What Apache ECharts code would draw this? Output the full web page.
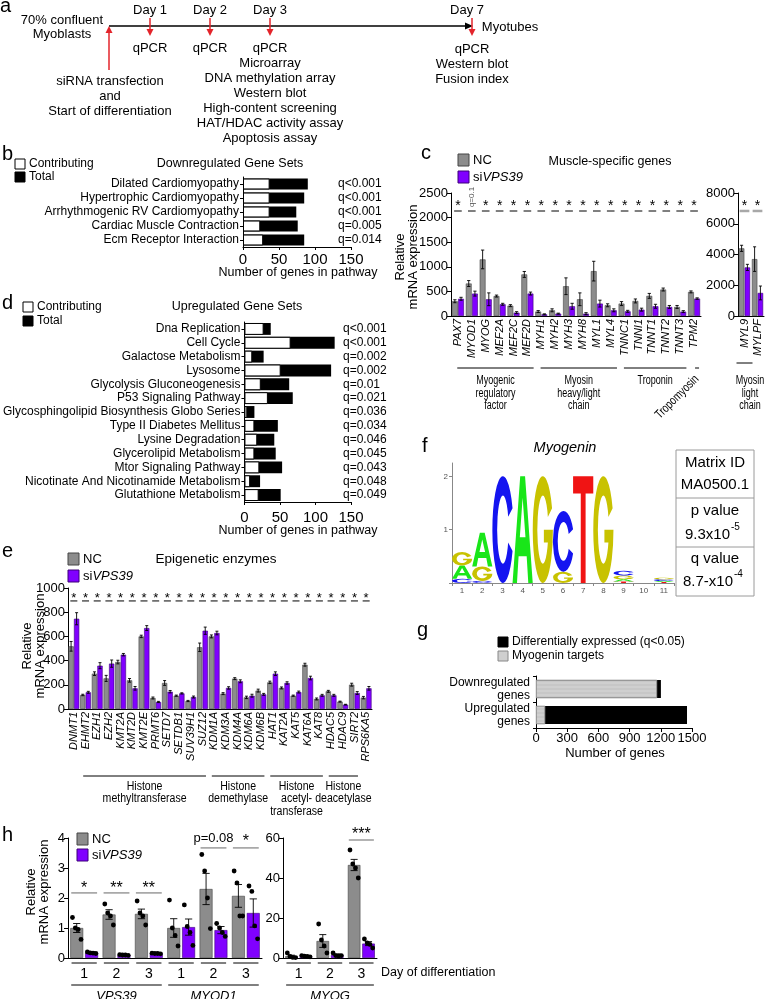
<!DOCTYPE html>
<html>
<head>
<meta charset="utf-8">
<script src="https://cdn.jsdelivr.net/npm/echarts@6.0.0/dist/echarts.min.js"></script>
<style>
html,body{margin:0;padding:0;background:#fff;}
#main{width:768px;height:999px;}
</style>
</head>
<body>
<div id="main"></div>
<script>
const FONT = "'Liberation Sans', Arial, Helvetica, sans-serif";
const NC_COLOR = '#8c8c8c';
const SI_COLOR = '#8000ff';
const RED = '#e3242b';

/* ---------- Panel a : timeline texts ---------- */
const timelineDays = ['Day 1', 'Day 2', 'Day 3', 'Day 7'];
const day3Assays = ['qPCR', 'Microarray', 'DNA methylation array', 'Western blot', 'High-content screening', 'HAT/HDAC activity assay', 'Apoptosis assay'];
const day7Assays = ['qPCR', 'Western blot', 'Fusion index'];
const startTexts = ['siRNA transfection', 'and', 'Start of differentiation'];

/* ---------- Panel b : downregulated gene sets ---------- */
const bSets = ['Dilated Cardiomyopathy', 'Hypertrophic Cardiomyopathy', 'Arrhythmogenic RV Cardiomyopathy', 'Cardiac Muscle Contraction', 'Ecm Receptor Interaction'];
const bContributing = [37, 37, 37, 24, 28];
const bTotal = [90, 85, 74, 76, 85];
const bQ = ['q<0.001', 'q<0.001', 'q<0.001', 'q=0.005', 'q=0.014'];

/* ---------- Panel d : upregulated gene sets ---------- */
const dSets = ['Dna Replication', 'Cell Cycle', 'Galactose Metabolism', 'Lysosome', 'Glycolysis Gluconeogenesis', 'P53 Signaling Pathway', 'Glycosphingolipid Biosynthesis Globo Series', 'Type II Diabetes Mellitus', 'Lysine Degradation', 'Glycerolipid Metabolism', 'Mtor Signaling Pathway', 'Nicotinate And Nicotinamide Metabolism', 'Glutathione Metabolism'];
const dContributing = [27, 65, 11, 51, 23, 33, 4, 14, 18, 14, 21, 8, 20];
const dTotal = [37, 127, 27, 122, 63, 68, 14, 47, 42, 44, 53, 22, 51];
const dQ = ['q<0.001', 'q<0.001', 'q=0.002', 'q=0.002', 'q=0.01', 'q=0.021', 'q=0.036', 'q=0.034', 'q=0.046', 'q=0.045', 'q=0.043', 'q=0.048', 'q=0.049'];

/* ---------- Panel c : muscle-specific genes ---------- */
const cGenes = ['PAX7', 'MYOD1', 'MYOG', 'MEF2A', 'MEF2C', 'MEF2D', 'MYH1', 'MYH2', 'MYH3', 'MYH8', 'MYL1', 'MYL4', 'TNNC1', 'TNNI1', 'TNNT1', 'TNNT2', 'TNNT3', 'TPM2'];
const cNC = [300, 660, 1150, 405, 210, 845, 90, 116, 605, 340, 912, 218, 252, 306, 409, 538, 184, 490];
const cSi = [350, 455, 340, 238, 68, 456, 34, 48, 198, 48, 252, 116, 95, 129, 198, 184, 89, 354];
const cNCsem = [30, 60, 190, 20, 20, 60, 20, 30, 170, 130, 200, 30, 40, 40, 50, 30, 30, 20];
const cSiSem = [30, 50, 130, 20, 20, 30, 10, 10, 60, 20, 70, 30, 20, 30, 40, 30, 20, 15];
const cSig = ['*', 'q=0.1', '*', '*', '*', '*', '*', '*', '*', '*', '*', '*', '*', '*', '*', '*', '*', '*'];
const cGenesR = ['MYL9', 'MYLPF'];
const cNCR = [4400, 3700];
const cSiR = [3160, 1500];
const cNCRsem = [200, 800];
const cSiRsem = [200, 450];
const cSigR = ['*', '*'];
const cGroups = [
  { label: 'Myogenic\nregulatory\nfactor', from: 0, to: 5 },
  { label: 'Myosin\nheavy/light\nchain', from: 6, to: 11 },
  { label: 'Troponin', from: 12, to: 16 }
];

/* ---------- Panel e : epigenetic enzymes ---------- */
const eGenes = ['DNMT1', 'EHMT2', 'EZH1', 'EZH2', 'KMT2A', 'KMT2D', 'KMT2E', 'PRMT6', 'SETD7', 'SETDB1', 'SUV39H1', 'SUZ12', 'KDM1A', 'KDM3A', 'KDM4A', 'KDM6A', 'KDM6B', 'HAT1', 'KAT2A', 'KAT5', 'KAT6A', 'KAT8', 'HDAC5', 'HDAC9', 'SIRT2', 'RPS6KA5'];
const eNC = [518, 116, 292, 253, 388, 237, 600, 91, 215, 110, 66, 510, 600, 127, 251, 96, 152, 220, 174, 110, 366, 83, 146, 61, 201, 94];
const eSi = [746, 138, 358, 375, 449, 171, 669, 58, 143, 129, 99, 647, 628, 174, 229, 110, 121, 292, 215, 140, 256, 113, 113, 36, 132, 171];
const eNCsem = [40, 6, 15, 25, 15, 15, 10, 8, 20, 5, 5, 35, 12, 8, 8, 10, 12, 10, 8, 5, 12, 8, 8, 4, 12, 10];
const eSiSem = [50, 8, 25, 30, 10, 15, 20, 5, 10, 5, 8, 30, 15, 10, 12, 12, 8, 15, 10, 8, 15, 8, 8, 3, 12, 15];
const eGroups = [
  { label: 'Histone\nmethyltransferase', from: 1, to: 11 },
  { label: 'Histone\ndemethylase', from: 12, to: 16 },
  { label: 'Histone\nacetyl-\ntransferase', from: 17, to: 21 },
  { label: 'Histone\ndeacetylase', from: 22, to: 24 }
];

/* ---------- Panel f : Myogenin motif logo (bits, stacked bottom to top) ---------- */
const logoPositions = ['1', '2', '3', '4', '5', '6', '7', '8', '9', '10', '11'];
const logoColumns = [
  [['C', 0.08], ['A', 0.25], ['G', 0.25]],
  [['C', 0.04], ['G', 0.27], ['A', 0.63]],
  [['C', 2.0]],
  [['A', 2.0]],
  [['G', 2.0]],
  [['G', 0.21], ['C', 1.14]],
  [['T', 2.0]],
  [['G', 2.0]],
  [['T', 0.03], ['A', 0.04], ['G', 0.07], ['C', 0.09]],
  [],
  [['T', 0.02], ['A', 0.02], ['C', 0.03], ['G', 0.03]]
];
const motifTable = ['Matrix ID', 'MA0500.1', 'p value', 'q value'];

/* ---------- Panel g ---------- */
const gCats = ['Downregulated\ngenes', 'Upregulated\ngenes'];
const gDiffExpressed = [1201, 1452];
const gMyogeninTargets = [1163, 87];

/* ---------- Panel h ---------- */
const hCats1 = ['VPS39-1', 'VPS39-2', 'VPS39-3', 'MYOD1-1', 'MYOD1-2', 'MYOD1-3'];
const hDays1 = ['1', '2', '3', '1', '2', '3'];
const hNC1 = [1.0, 1.45, 1.47, 1.0, 2.3, 2.07];
const hSi1 = [0.17, 0.1, 0.15, 1.03, 0.93, 1.5];
const hNCsem1 = [0.15, 0.16, 0.16, 0.31, 0.52, 0.38];
const hSiSem1 = [0.03, 0.02, 0.02, 0.27, 0.12, 0.47];
const hNCdots1 = [[1.35, 1.0, 0.95, 0.62], [1.8, 1.5, 1.4, 1.1], [1.9, 1.5, 1.4, 1.1], [1.93, 1.0, 0.75, 0.4], [3.45, 2.9, 2.0, 0.98], [2.9, 2.5, 1.4, 1.4]];
const hSiDots1 = [[0.2, 0.17, 0.16, 0.15], [0.11, 0.1, 0.1, 0.09], [0.16, 0.15, 0.15, 0.14], [1.77, 1.05, 0.85, 0.42], [1.15, 1.0, 0.85, 0.72], [2.4, 2.22, 1.07, 0.64]];
const hSigIdx1 = [0, 1, 2, 4, 5];
const hSigText1 = ['*', '**', '**', 'p=0.08', '*'];
const hSigStar1 = [2.33, 2.33, 2.33, 3.97, 3.87];
const hSigLine1 = [2.17, 2.17, 2.17, 3.67, 3.67];
const hCats2 = ['MYOG-1', 'MYOG-2', 'MYOG-3'];
const hDays2 = ['1', '2', '3'];
const hNC2 = [0.9, 8.5, 46.5];
const hSi2 = [0.9, 1.5, 7.2];
const hNCsem2 = [0.5, 3.2, 2.8];
const hSiSem2 = [0.2, 0.5, 1.0];
const hNCdots2 = [[2.5, 0.8, 0.3, 0.2], [17, 9, 6, 2.5], [54, 47, 45, 40]];
const hSiDots2 = [[1.2, 0.9, 0.8, 0.6], [2.5, 1.2, 1.0, 1.2], [9.5, 7.5, 6.8, 5]];
const hSigIdx2 = [2];
const hSigText2 = ['***'];
const hSigStar2 = [61.5];
const hSigLine2 = [59];
const hGenes = ['VPS39', 'MYOD1', 'MYOG'];

/* ======================================================= */
const chart = echarts.init(document.getElementById('main'));
const grids = [], xAxes = [], yAxes = [], series = [];
const addGrid = g => { grids.push(g); return grids.length - 1; };
const pushX = a => { xAxes.push(a); return xAxes.length - 1; };
const pushY = a => { yAxes.push(a); return yAxes.length - 1; };
const BL = { color: '#000', width: 1 };
const lab = (o) => Object.assign({ color: '#000', fontFamily: FONT }, o);

function valueAxis(gi, min, max, interval, labelSize, margin) {
  return {
    gridIndex: gi, type: 'value', min, max, interval,
    axisLine: { show: true, lineStyle: BL },
    axisTick: { show: true, length: 4, lineStyle: BL },
    axisLabel: lab({ fontSize: labelSize, margin, formatter: v => String(v), showMaxLabel: true, hideOverlap: false }),
    splitLine: { show: false }
  };
}
function catAxis(gi, data, o) {
  return Object.assign({
    gridIndex: gi, type: 'category', data,
    axisLine: { show: true, lineStyle: BL },
    axisTick: { show: false },
    axisLabel: lab({ fontSize: 11, interval: 0 })
  }, o);
}

function errSeries(xi, yi, means, sems, side, wFrac, gapFrac) {
  return {
    type: 'custom', xAxisIndex: xi, yAxisIndex: yi, silent: true, z: 5,
    data: means.map((m, i) => [i, m - sems[i], m + sems[i]]),
    renderItem(params, api) {
      const band = api.size([1, 0])[0];
      const w = band * wFrac, g = w * gapFrac;
      const dx = side * (w + g) / 2;
      const lo = api.coord([api.value(0), api.value(1)]);
      const hi = api.coord([api.value(0), api.value(2)]);
      const x = lo[0] + dx, cap = Math.max(1.5, w * 0.28);
      const st = { stroke: '#000', lineWidth: 0.9 };
      return { type: 'group', children: [
        { type: 'line', shape: { x1: x, y1: lo[1], x2: x, y2: hi[1] }, style: st },
        { type: 'line', shape: { x1: x - cap, y1: hi[1], x2: x + cap, y2: hi[1] }, style: st },
        { type: 'line', shape: { x1: x - cap, y1: lo[1], x2: x + cap, y2: lo[1] }, style: st }
      ] };
    }
  };
}
function dotSeries(xi, yi, dots, side, wFrac, gapFrac, r) {
  const data = [];
  dots.forEach((arr, i) => arr.forEach((v, j) => data.push([i, v, j, arr.length])));
  return {
    type: 'custom', xAxisIndex: xi, yAxisIndex: yi, silent: true, z: 7, data,
    renderItem(params, api) {
      const p = api.coord([api.value(0), api.value(1)]);
      const band = api.size([1, 0])[0];
      const w = band * wFrac, g = w * gapFrac;
      const n = api.value(3), j = api.value(2);
      const off = side * (w + g) / 2 + (j - (n - 1) / 2) * w * 0.22;
      return { type: 'circle', shape: { cx: p[0] + off, cy: p[1], r }, style: { fill: '#000' } };
    }
  };
}
function sigSeries(xi, yi, idxs, starVals, lineVals, labels, o) {
  return {
    type: 'custom', xAxisIndex: xi, yAxisIndex: yi, silent: true, z: 6, clip: false,
    data: idxs.map((c, k) => [c, starVals[k], lineVals[k]]),
    renderItem(params, api) {
      const i = api.value(0);
      const s = api.coord([i, api.value(1)]);
      const l = api.coord([i, api.value(2)]);
      const band = api.size([1, 0])[0];
      const half = band * o.lineFrac / 2;
      const t = labels[params.dataIndex];
      const isStar = t[0] === '*';
      const rot = (!isStar && o.rotateText) ? Math.PI / 2 : 0;
      const fs = isStar ? o.starSize : o.textSize;
      return { type: 'group', children: [
        { type: 'line', shape: { x1: l[0] - half, y1: l[1], x2: l[0] + half, y2: l[1] }, style: { stroke: o.lineColor, lineWidth: o.lineWidth } },
        { type: 'text', x: s[0], y: s[1] + (isStar ? 0 : o.textShift || 0), rotation: rot,
          style: { text: t, fontSize: fs, fontFamily: FONT, fill: isStar ? '#000' : o.textColor,
            align: 'center', verticalAlign: 'middle', textAlign: 'center', textVerticalAlign: 'middle' } }
      ] };
    }
  };
}
function barPair(xi, yi, nc, si, wPct, gapPct) {
  return [
    { type: 'bar', xAxisIndex: xi, yAxisIndex: yi, data: nc, barWidth: wPct + '%', barGap: gapPct + '%', silent: true,
      itemStyle: { color: NC_COLOR, borderColor: '#444', borderWidth: 0.6 } },
    { type: 'bar', xAxisIndex: xi, yAxisIndex: yi, data: si, barWidth: wPct + '%', barGap: gapPct + '%', silent: true,
      itemStyle: { color: SI_COLOR, borderColor: '#3c0078', borderWidth: 0.6 } }
  ];
}

/* ---- grids ---- */
const G_B = addGrid({ left: 243, top: 177, width: 108, height: 70 });
const G_D = addGrid({ left: 243, top: 322, width: 108, height: 180 });
const G_C1 = addGrid({ left: 451, top: 193, width: 250, height: 123 });
const G_C2 = addGrid({ left: 738, top: 193, width: 26, height: 123 });
const G_E = addGrid({ left: 68, top: 588, width: 304, height: 121 });
const G_F = addGrid({ left: 452, top: 463, width: 222, height: 120 });
const G_G = addGrid({ left: 536, top: 676, width: 156, height: 52 });
const G_H1 = addGrid({ left: 68, top: 838, width: 194, height: 120 });
const G_H2 = addGrid({ left: 283, top: 838, width: 94, height: 120 });

/* ---- panel b ---- */
const xB = pushX(Object.assign(valueAxis(G_B, 0, 150, 50, 15, 5), { axisTick: { show: true, length: 3, lineStyle: BL } }));
const yB = pushY(catAxis(G_B, bSets, { inverse: true, axisTick: { show: true, length: 3, alignWithLabel: true, lineStyle: BL }, axisLabel: lab({ fontSize: 12, margin: 4, interval: 0 }) }));
const yBq = pushY(catAxis(G_B, bQ, { inverse: true, position: 'right', axisLine: { show: false }, axisLabel: lab({ fontSize: 12, margin: -13, align: 'left', interval: 0 }) }));
series.push(
  { type: 'bar', xAxisIndex: xB, yAxisIndex: yB, data: bTotal, barWidth: '78%', barGap: '-100%', silent: true, itemStyle: { color: '#000' } },
  { type: 'bar', xAxisIndex: xB, yAxisIndex: yB, data: bContributing, barWidth: '78%', barGap: '-100%', silent: true, itemStyle: { color: '#fff', borderColor: '#000', borderWidth: 1 } }
);

/* ---- panel d ---- */
const xD = pushX(Object.assign(valueAxis(G_D, 0, 150, 50, 15, 8), { axisTick: { show: true, length: 3, lineStyle: BL } }));
const yD = pushY(catAxis(G_D, dSets, { inverse: true, axisTick: { show: true, length: 3, alignWithLabel: true, lineStyle: BL }, axisLabel: lab({ fontSize: 12, margin: 4, interval: 0 }) }));
const yDq = pushY(catAxis(G_D, dQ, { inverse: true, position: 'right', axisLine: { show: false }, axisLabel: lab({ fontSize: 12, margin: -8, align: 'left', interval: 0 }) }));
series.push(
  { type: 'bar', xAxisIndex: xD, yAxisIndex: yD, data: dTotal, barWidth: '86%', barGap: '-100%', silent: true, itemStyle: { color: '#000' } },
  { type: 'bar', xAxisIndex: xD, yAxisIndex: yD, data: dContributing, barWidth: '86%', barGap: '-100%', silent: true, itemStyle: { color: '#fff', borderColor: '#000', borderWidth: 1 } }
);

/* ---- panel c ---- */
const xC1 = pushX(catAxis(G_C1, cGenes, { axisLabel: lab({ fontSize: 11, fontStyle: 'italic', rotate: 90, margin: 3, interval: 0 }) }));
const yC1 = pushY(valueAxis(G_C1, 0, 2500, 500, 13, 3));
series.push(...barPair(xC1, yC1, cNC, cSi, 42, 6));
series.push(errSeries(xC1, yC1, cNC, cNCsem, -1, 0.42, 0.06), errSeries(xC1, yC1, cSi, cSiSem, 1, 0.42, 0.06));
series.push(sigSeries(xC1, yC1, cGenes.map((g, i) => i), cGenes.map(() => 2236), cGenes.map(() => 2134), cSig,
  { lineFrac: 0.55, lineColor: '#000', lineWidth: 1, starSize: 14, textSize: 8, textColor: '#555', rotateText: true, textShift: -9 }));

const xC2 = pushX(catAxis(G_C2, cGenesR, { axisLabel: lab({ fontSize: 11, fontStyle: 'italic', rotate: 90, margin: 3, interval: 0 }) }));
const yC2 = pushY(valueAxis(G_C2, 0, 8000, 2000, 13, 3));
series.push(...barPair(xC2, yC2, cNCR, cSiR, 42, 6));
series.push(errSeries(xC2, yC2, cNCR, cNCRsem, -1, 0.42, 0.06), errSeries(xC2, yC2, cSiR, cSiRsem, 1, 0.42, 0.06));
series.push(sigSeries(xC2, yC2, [0, 1], [7154, 7154], [6830, 6830], cSigR,
  { lineFrac: 0.75, lineColor: '#a8a8a8', lineWidth: 2.5, starSize: 14, textSize: 8, textColor: '#555' }));

/* ---- panel e ---- */
const xE = pushX(catAxis(G_E, eGenes, { axisLabel: lab({ fontSize: 11, fontStyle: 'italic', rotate: 90, margin: 3, interval: 0 }) }));
const yE = pushY(valueAxis(G_E, 0, 1000, 200, 13, 3));
series.push(...barPair(xE, yE, eNC, eSi, 45, 5));
series.push(errSeries(xE, yE, eNC, eNCsem, -1, 0.45, 0.05), errSeries(xE, yE, eSi, eSiSem, 1, 0.45, 0.05));
series.push(sigSeries(xE, yE, eGenes.map((g, i) => i), eGenes.map(() => 918), eGenes.map(() => 893), eGenes.map(() => '*'),
  { lineFrac: 0.6, lineColor: '#000', lineWidth: 1, starSize: 13, textSize: 8, textColor: '#555' }));

/* ---- panel f : logo ---- */
const LETTER_PATHS = {
  A: 'M0,100 L38,0 L62,0 L100,100 L78,100 L70,75 L30,75 L22,100 Z M36,57 L64,57 L50,20 Z',
  C: 'M94,30 A48,50 0 1 0 94,70 L74,62 A26,32 0 1 1 74,38 Z',
  G: 'M94,30 A48,50 0 1 0 98,50 L55,50 L55,62 L74,62 A26,32 0 1 1 74,38 Z',
  T: 'M0,0 L100,0 L100,16 L62,16 L62,100 L38,100 L38,16 L0,16 Z'
};
const LETTER_COLORS = { A: '#19e619', C: '#1414f0', G: '#c8c200', T: '#f01414' };
const LETTER_ORDER = ['A', 'C', 'G', 'T'];
const logoData = [];
logoColumns.forEach((col, pos) => {
  let base = 0;
  col.forEach(([l, h]) => { logoData.push([pos, base, base + h, LETTER_ORDER.indexOf(l)]); base += h; });
});
const xF = pushX({
  gridIndex: G_F, type: 'category', data: logoPositions,
  axisLine: { show: true, lineStyle: { color: '#888', width: 1 } },
  axisTick: { show: true, length: 3, lineStyle: { color: '#888' } },
  axisLabel: { fontSize: 8, color: '#555', margin: 4, fontFamily: FONT, interval: 0 }
});
const yF = pushY({
  gridIndex: G_F, type: 'value', min: 0, max: 2.25, interval: 1,
  axisLine: { show: true, lineStyle: { color: '#888', width: 1 } },
  axisTick: { show: true, length: 3, lineStyle: { color: '#888' }, customValues: [0, 1, 2] },
  axisLabel: { fontSize: 8, color: '#555', margin: 4, fontFamily: FONT, customValues: [1, 2] },
  splitLine: { show: false }
});
series.push({
  type: 'custom', xAxisIndex: xF, yAxisIndex: yF, silent: true, data: logoData,
  renderItem(params, api) {
    const p0 = api.coord([api.value(0), api.value(1)]);
    const p1 = api.coord([api.value(0), api.value(2)]);
    const band = api.size([1, 0])[0];
    const w = band * 1.0;
    const l = LETTER_ORDER[api.value(3)];
    return { type: 'path', shape: { pathData: LETTER_PATHS[l], x: p0[0] - w / 2, y: p1[1], width: w, height: Math.max(0.8, p0[1] - p1[1]), layout: 'cover' },
      style: { fill: LETTER_COLORS[l] } };
  }
});

/* ---- panel g ---- */
const xG = pushX(valueAxis(G_G, 0, 1500, 300, 13, 4));
const yG = pushY(catAxis(G_G, gCats, { inverse: true, axisTick: { show: true, length: 3, lineStyle: BL }, axisLabel: lab({ fontSize: 12, margin: 6, lineHeight: 13, interval: 0 }) }));
series.push(
  { type: 'bar', xAxisIndex: xG, yAxisIndex: yG, data: gDiffExpressed, barWidth: '70%', barGap: '-100%', silent: true, itemStyle: { color: '#000' } },
  { type: 'bar', xAxisIndex: xG, yAxisIndex: yG, data: gMyogeninTargets, barWidth: '70%', barGap: '-100%', silent: true,
    itemStyle: { color: '#cfcfcf', borderColor: '#9a9a9a', borderWidth: 0.5,
      decal: { symbol: 'rect', symbolSize: 0.5, dashArrayX: [1, 0], dashArrayY: [2, 2], color: 'rgba(120,120,120,0.35)', rotation: 0 } } }
);

/* ---- panel h ---- */
const xH1 = pushX(catAxis(G_H1, hCats1, { axisLabel: lab({ fontSize: 14, margin: 9, interval: 0, formatter: (v, i) => hDays1[i] }) }));
const yH1 = pushY(valueAxis(G_H1, 0, 4, 1, 13, 3));
series.push(...barPair(xH1, yH1, hNC1, hSi1, 40, 15));
series.push(errSeries(xH1, yH1, hNC1, hNCsem1, -1, 0.40, 0.15), errSeries(xH1, yH1, hSi1, hSiSem1, 1, 0.40, 0.15));
series.push(dotSeries(xH1, yH1, hNCdots1, -1, 0.40, 0.15, 2.4), dotSeries(xH1, yH1, hSiDots1, 1, 0.40, 0.15, 2.4));
series.push(sigSeries(xH1, yH1, hSigIdx1, hSigStar1, hSigLine1, hSigText1,
  { lineFrac: 0.8, lineColor: '#9a9a9a', lineWidth: 1.5, starSize: 16, textSize: 13, textColor: '#000' }));

const xH2 = pushX(catAxis(G_H2, hCats2, { axisLabel: lab({ fontSize: 14, margin: 9, interval: 0, formatter: (v, i) => hDays2[i] }) }));
const yH2 = pushY(valueAxis(G_H2, 0, 60, 20, 13, 3));
series.push(...barPair(xH2, yH2, hNC2, hSi2, 40, 15));
series.push(errSeries(xH2, yH2, hNC2, hNCsem2, -1, 0.40, 0.15), errSeries(xH2, yH2, hSi2, hSiSem2, 1, 0.40, 0.15));
series.push(dotSeries(xH2, yH2, hNCdots2, -1, 0.40, 0.15, 2.4), dotSeries(xH2, yH2, hSiDots2, 1, 0.40, 0.15, 2.4));
series.push(sigSeries(xH2, yH2, hSigIdx2, hSigStar2, hSigLine2, hSigText2,
  { lineFrac: 0.8, lineColor: '#9a9a9a', lineWidth: 1.5, starSize: 16, textSize: 13, textColor: '#000' }));

chart.setOption({ animation: false, backgroundColor: '#fff', grid: grids, xAxis: xAxes, yAxis: yAxes, series });

/* ======================= annotations ======================= */
function txt(x, y, text, o = {}) {
  const al = o.align || 'center', va = o.va || 'middle';
  const st = { text, fill: o.color || '#000', fontSize: o.size || 13, fontFamily: FONT,
    fontStyle: o.italic ? 'italic' : 'normal', align: al, verticalAlign: va, textAlign: al, textVerticalAlign: va };
  if (o.lh) st.lineHeight = o.lh;
  if (o.rich) st.rich = o.rich;
  return { type: 'text', x, y, rotation: o.rot || 0, scaleX: o.sx || 1, silent: true, z: 100, style: st };
}
const line = (x1, y1, x2, y2, c = '#000', w = 1) => ({ type: 'line', silent: true, z: 100, shape: { x1, y1, x2, y2 }, style: { stroke: c, lineWidth: w } });
const rect = (x, y, w, h, fill, stroke) => ({ type: 'rect', silent: true, z: 100, shape: { x, y, width: w, height: h }, style: { fill, stroke: stroke || '#000', lineWidth: 1 } });
const poly = (pts, fill) => ({ type: 'polygon', silent: true, z: 100, shape: { points: pts }, style: { fill } });
function siText(x, y, size) {
  return { type: 'text', x, y, silent: true, z: 100, style: { text: '{a|si}{b|VPS39}',
    rich: { a: { fontSize: size, fontFamily: FONT, fill: '#000' }, b: { fontSize: size, fontFamily: FONT, fontStyle: 'italic', fill: '#000' } },
    align: 'left', verticalAlign: 'middle', textAlign: 'left', textVerticalAlign: 'middle', fontSize: size, fontFamily: FONT } };
}
function legendNcSi(x, y1, y2, size) {
  return [rect(x, y1 - 6, 11, 12, NC_COLOR, '#444'), txt(x + 15, y1, 'NC', { size, align: 'left' }),
          rect(x, y2 - 6, 11, 12, SI_COLOR, '#3c0078'), siText(x + 15, y2, size)];
}
function yName(x, y, size) {
  return txt(x, y, 'Relative\nmRNA expression', { size, rot: Math.PI / 2, lh: size });
}
const px = (xi, i) => chart.convertToPixel({ xAxisIndex: xi }, i);
const bandOf = (xi) => px(xi, 1) - px(xi, 0);

const E = [];
// Panel letters
[['a', 0, 6], ['b', 2, 154], ['c', 421, 153], ['d', 2, 303], ['e', 2, 551], ['f', 422, 446], ['g', 417, 630], ['h', 2, 835]]
  .forEach(([t, x, y]) => E.push(txt(x, y, t, { size: 20, align: 'left' })));

// Panel a
E.push(txt(62, 20, '70% confluent'), txt(62, 34, 'Myoblasts'));
E.push(line(109, 26, 466, 26, '#000', 1.5), poly([[465, 22.5], [465, 29.5], [473, 26]], '#000'));
E.push(line(109, 70, 109, 32, RED, 1.5), poly([[105.5, 33], [112.5, 33], [109, 26]], RED));
const dayTextX = [150, 210, 270, 467], dayArrowX = [150, 210, 270, 472];
timelineDays.forEach((t, k) => {
  E.push(txt(dayTextX[k], 10, t));
  E.push(line(dayArrowX[k], 18, dayArrowX[k], 30, RED, 1.5), poly([[dayArrowX[k] - 3.5, 29], [dayArrowX[k] + 3.5, 29], [dayArrowX[k], 36]], RED));
});
E.push(txt(510, 27, 'Myotubes'));
E.push(txt(150, 48, 'qPCR'), txt(210, 48, 'qPCR'));
day3Assays.forEach((t, k) => E.push(txt(270, 48 + k * 15, t)));
day7Assays.forEach((t, k) => E.push(txt(472, 49 + k * 15, t)));
startTexts.forEach((t, k) => E.push(txt(110, 81 + k * 15, t)));

// Panel b
E.push(rect(15, 159, 10, 10, '#fff'), txt(29, 164, 'Contributing', { size: 12, align: 'left' }));
E.push(rect(15, 172, 10, 10, '#000'), txt(29, 177, 'Total', { size: 12, align: 'left' }));
E.push(txt(230, 164, 'Downregulated Gene Sets', { size: 12.5 }));
E.push(txt(298, 273, 'Number of genes in pathway', { size: 12.5 }));
// Panel d
E.push(rect(23, 302, 10, 10, '#fff'), txt(37, 307, 'Contributing', { size: 12, align: 'left' }));
E.push(rect(23, 316, 10, 10, '#000'), txt(37, 321, 'Total', { size: 12, align: 'left' }));
E.push(txt(237, 307, 'Upregulated Gene Sets', { size: 12.5 }));
E.push(txt(298, 531, 'Number of genes in pathway', { size: 12.5 }));

// Panel c
E.push(...legendNcSi(458, 160, 177, 13));
E.push(txt(610, 162, 'Muscle-specific genes', { size: 12.5 }));
E.push(yName(407, 257, 13));
{
  const b = bandOf(xC1);
  cGroups.forEach(g => {
    const x1 = px(xC1, g.from) - 0.05 * b, x2 = px(xC1, g.to) + 0.45 * b;
    E.push(line(x1, 368, x2, 368));
    E.push(txt((x1 + x2) / 2, 374, g.label, { size: 12.5, sx: 0.72, va: 'top', lh: 12.8 }));
  });
  const tp = px(xC1, 17);
  E.push(line(tp + 1, 368, tp + 5, 368));
  E.push(txt(tp - 17, 397, 'Tropomyosin', { size: 12.5, sx: 0.78, rot: Math.PI / 4 }));
  const r0 = px(xC2, 0), r1 = px(xC2, 1);
  E.push(line(r0 - 8, 363, r1 - 5, 363));
  E.push(txt(750, 374, 'Myosin\nlight\nchain', { size: 12.5, sx: 0.72, va: 'top', lh: 12.8 }));
}

// Panel e
E.push(...legendNcSi(68, 559, 576, 13));
E.push(txt(216, 559, 'Epigenetic enzymes', { size: 13.5 }));
E.push(yName(34, 646, 13));
{
  const b = bandOf(xE);
  eGroups.forEach(g => {
    const x1 = px(xE, g.from) - 0.2 * b, x2 = px(xE, g.to) + 0.3 * b;
    E.push(line(x1, 776, x2, 776));
    E.push(txt((x1 + x2) / 2, 780, g.label, { size: 12, sx: 0.88, va: 'top', lh: 12.5 }));
  });
}

// Panel f
E.push(txt(565, 448, 'Myogenin', { size: 14.5, italic: true }));
E.push(rect(676, 450, 78, 146, '#fff', '#9a9a9a'), line(676, 498, 754, 498, '#9a9a9a'), line(676, 547, 754, 547, '#9a9a9a'));
E.push(txt(715, 463, motifTable[0], { size: 15 }), txt(715, 485, motifTable[1], { size: 15 }));
E.push(txt(715, 511, motifTable[2], { size: 15 }), txt(730, 535, '9.3x10', { size: 15, align: 'right' }), txt(731, 527, '-5', { size: 10, align: 'left' }));
E.push(txt(715, 559, motifTable[3], { size: 15 }), txt(733, 582, '8.7-x10', { size: 15, align: 'right' }), txt(734, 574, '-4', { size: 10, align: 'left' }));

// Panel g
E.push(rect(498, 637, 10, 10, '#000'), txt(512, 642, 'Differentially expressed (q<0.05)', { size: 12, align: 'left' }));
E.push(rect(498, 651, 10, 10, '#cfcfcf', '#888'), txt(512, 656, 'Myogenin targets', { size: 12, align: 'left' }));
E.push(txt(615, 753, 'Number of genes', { size: 13 }));

// Panel h
E.push(...legendNcSi(77, 839, 855, 13));
E.push(yName(38, 892, 13));
E.push(txt(381, 973, 'Day of differentiation', { size: 12.5, align: 'left' }));
{
  const hb1 = bandOf(xH1), hb2 = bandOf(xH2);
  hCats1.forEach((c, i) => { const x = px(xH1, i); E.push(line(x - 0.39 * hb1, 963, x + 0.39 * hb1, 963, '#000', 1)); });
  hCats2.forEach((c, i) => { const x = px(xH2, i); E.push(line(x - 0.39 * hb2, 963, x + 0.39 * hb2, 963, '#000', 1)); });
  const gl = [[xH1, 0, 2, hb1], [xH1, 3, 5, hb1], [xH2, 0, 2, hb2]];
  gl.forEach(([xi, a, b2, hb], k) => {
    const x1 = px(xi, a) - 0.4 * hb, x2 = px(xi, b2) + 0.4 * hb;
    E.push(line(x1, 985, x2, 985));
    E.push(txt((x1 + x2) / 2, 996, hGenes[k], { size: 13, italic: true }));
  });
}

chart.setOption({ graphic: { elements: E } });
</script>
</body>
</html>
